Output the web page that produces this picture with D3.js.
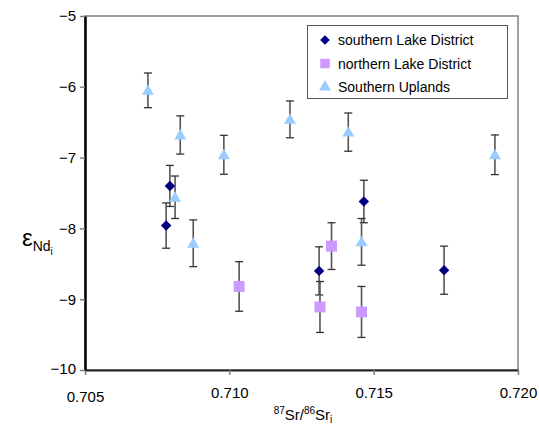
<!DOCTYPE html>
<html>
<head>
<meta charset="utf-8">
<script src="https://cdn.jsdelivr.net/npm/d3@7"></script>
<style>
  body { margin: 0; background: #fff; }
  text { font-family: "Liberation Sans", Arial, sans-serif; }
</style>
</head>
<body>
<script>
// series: [Sr ratio, eNd, error]
var seriesNames = ["southern Lake District", "northern Lake District", "Southern Uplands"];
var southLD = [[0.70794, -7.40, 0.29], [0.70781, -7.96, 0.32], [0.71466, -7.62, 0.30],
               [0.71311, -8.60, 0.34], [0.71744, -8.59, 0.34]];
var northLD = [[0.71034, -8.82, 0.35], [0.71354, -8.25, 0.33], [0.71314, -9.11, 0.36],
               [0.71458, -9.18, 0.36]];
var uplands = [[0.70718, -6.05, 0.245], [0.70830, -6.68, 0.27], [0.70981, -6.96, 0.275],
               [0.70812, -7.56, 0.30], [0.70875, -8.21, 0.33], [0.71412, -6.64, 0.27],
               [0.71210, -6.46, 0.26], [0.71458, -8.19, 0.33], [0.71920, -6.96, 0.28]];
var xTicks = [0.705, 0.710, 0.715, 0.720];
var yTicks = [-5, -6, -7, -8, -9, -10];

var width = 539, height = 431;
var margin = {top: 16, right: 21, bottom: 61, left: 85};

var svg = d3.select("body").append("svg")
    .attr("width", width)
    .attr("height", height);

var x = d3.scaleLinear().domain([0.705, 0.720]).range([margin.left, width - margin.right]);
var y = d3.scaleLinear().domain([-10, -5]).range([height - margin.bottom, margin.top]);

// plot area border (grey)
svg.append("rect")
    .attr("x", x(0.705)).attr("y", y(-5))
    .attr("width", x(0.720) - x(0.705)).attr("height", y(-10) - y(-5))
    .attr("fill", "none").attr("stroke", "#808080").attr("stroke-width", 1.5);

// axes
var xAxis = svg.append("g")
    .attr("transform", "translate(0," + y(-10) + ")")
    .call(d3.axisBottom(x).tickValues(xTicks).tickSize(5).tickSizeOuter(0).tickFormat(d3.format(".3f")));
var yAxis = svg.append("g")
    .attr("transform", "translate(" + x(0.705) + ",0)")
    .call(d3.axisLeft(y).tickValues(yTicks).tickSize(5).tickSizeOuter(0).tickFormat(d3.format("d")));

xAxis.select(".domain").attr("stroke", "#222").attr("stroke-width", 2);
yAxis.select(".domain").attr("stroke", "#000").attr("stroke-width", 2.5);
svg.selectAll(".tick line").attr("stroke", "#808080").attr("stroke-width", 1.5);
xAxis.selectAll("text").attr("font-size", 15).attr("font-family", "Liberation Sans, Arial").attr("fill", "#000").attr("dy", "1.3em");
yAxis.selectAll("text").attr("font-size", 15).attr("font-family", "Liberation Sans, Arial").attr("fill", "#000").attr("x", -9);
yAxis.selectAll(".tick").filter(function (d) { return d == -10; }).select("text").attr("dy", "0.2em");
xAxis.selectAll(".tick").filter(function (d) { return d == 0.705; }).select("text").attr("dy", "1.6em");

// error bars
function errorBars(data) {
    var g = svg.append("g").attr("stroke", "#333").attr("stroke-width", 1.3);
    data.forEach(function (d) {
        var cx = x(d[0]);
        g.append("line").attr("x1", cx).attr("x2", cx)
            .attr("y1", y(d[1] + d[2])).attr("y2", y(d[1] - d[2])).attr("stroke", "#555").attr("stroke-width", 1.6);
        g.append("line").attr("x1", cx - 4).attr("x2", cx + 4)
            .attr("y1", y(d[1] + d[2])).attr("y2", y(d[1] + d[2]));
        g.append("line").attr("x1", cx - 4).attr("x2", cx + 4)
            .attr("y1", y(d[1] - d[2])).attr("y2", y(d[1] - d[2]));
    });
}
errorBars(southLD);
errorBars(northLD);
errorBars(uplands);

var diamond = d3.symbol().type(d3.symbolDiamond2).size(70);
var square = d3.symbol().type(d3.symbolSquare).size(120);
var triangle = d3.symbol().type(d3.symbolTriangle).size(62);

svg.append("g").selectAll("path").data(uplands).join("path")
    .attr("d", triangle)
    .attr("transform", function (d) { return "translate(" + x(d[0]) + "," + (y(d[1]) + 1) + ")"; })
    .attr("fill", "#99CCFF");
svg.append("g").selectAll("path").data(northLD).join("path")
    .attr("d", square)
    .attr("transform", function (d) { return "translate(" + x(d[0]) + "," + y(d[1]) + ")"; })
    .attr("fill", "#CC99FF");
svg.append("g").selectAll("path").data(southLD).join("path")
    .attr("d", diamond)
    .attr("transform", function (d) { return "translate(" + x(d[0]) + "," + y(d[1]) + ")"; })
    .attr("fill", "#000080");

// legend
var legend = svg.append("g");
legend.append("rect")
    .attr("x", 307.5).attr("y", 25.5).attr("width", 200).attr("height", 73)
    .attr("fill", "#fff").attr("stroke", "#555").attr("stroke-width", 1);
var legendSyms = [d3.symbol().type(d3.symbolDiamond2).size(60), d3.symbol().type(d3.symbolSquare).size(90), triangle];
var legendCols = ["#000080", "#CC99FF", "#99CCFF"];
seriesNames.forEach(function (name, i) {
    var ly = 40 + i * 23.5;
    legend.append("path").attr("d", legendSyms[i])
        .attr("transform", "translate(325," + ly + ")")
        .attr("fill", legendCols[i]);
    legend.append("text").attr("x", 338).attr("y", ly + 5)
        .attr("font-size", 14).attr("fill", "#000").text(name);
});

// axis titles
var xt = svg.append("text").attr("x", 303).attr("y", 420)
    .attr("text-anchor", "middle").attr("font-size", 15).attr("fill", "#000");
xt.append("tspan").attr("font-size", 10).attr("dy", -6).text("87");
xt.append("tspan").attr("dy", 6).text("Sr/");
xt.append("tspan").attr("font-size", 10).attr("dy", -6).text("86");
xt.append("tspan").attr("dy", 6).text("Sr");
xt.append("tspan").attr("font-size", 10).attr("dy", 3).text("i");

var yt = svg.append("text").attr("x", 22).attr("y", 246).attr("fill", "#000");
yt.append("tspan").attr("font-size", 24).text("ε");
yt.append("tspan").attr("font-size", 14).attr("dy", 5).text("Nd");
yt.append("tspan").attr("font-size", 10).attr("dy", 4).text("i");
</script>
</body>
</html>
